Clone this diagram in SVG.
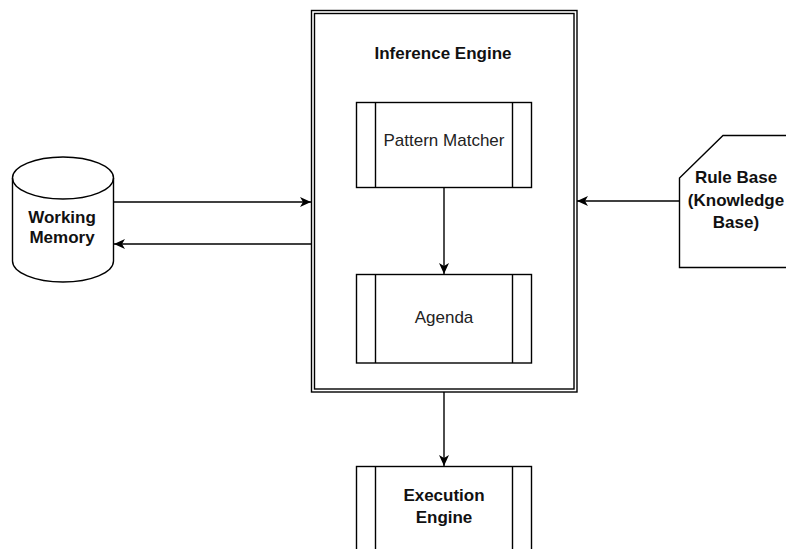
<svg xmlns="http://www.w3.org/2000/svg" width="786" height="549" viewBox="0 0 786 549">
<style>
.s{fill:#fff;stroke:#000;stroke-width:1.4}
.l{fill:none;stroke:#000;stroke-width:1.4}
.t{font-family:"Liberation Sans",Arial,sans-serif;font-size:17px;text-anchor:middle;fill:#222}
.b{font-weight:bold;fill:#111}
</style>
<defs>
<marker id="arr" markerUnits="userSpaceOnUse" markerWidth="12" markerHeight="12" viewBox="0 0 12 12" refX="11" refY="6" orient="auto">
<path d="M0,1 L11,6 L0,11 L3,6 z" fill="#000"/>
</marker>
</defs>
<rect width="786" height="549" fill="#fff"/>
<g id="inference-engine">
<rect class="s" x="311.5" y="10.5" width="265.5" height="381.5"/>
<rect class="l" x="314.5" y="13.5" width="259.5" height="375.5"/>
<text class="t b" x="443" y="59">Inference Engine</text>
</g>
<g id="pattern-matcher">
<rect class="s" x="356.5" y="102.5" width="175" height="85"/>
<path class="l" d="M375.5,102.5 V187.5 M512.5,102.5 V187.5"/>
<text class="t" x="444" y="146">Pattern Matcher</text>
</g>
<g id="agenda">
<rect class="s" x="356.5" y="274.5" width="175" height="88.5"/>
<path class="l" d="M375.5,274.5 V363 M512.5,274.5 V363"/>
<text class="t" x="444" y="323">Agenda</text>
</g>
<g id="execution-engine">
<rect class="s" x="356.5" y="466.5" width="175" height="100"/>
<path class="l" d="M375.5,466.5 V560 M512.5,466.5 V560"/>
<text class="t b" x="444" y="501">Execution</text>
<text class="t b" x="444" y="523">Engine</text>
</g>
<g id="working-memory">
<path class="s" d="M12.5,178 A50.5,21 0 0 1 113.5,178 V261 A50.5,21 0 0 1 12.5,261 Z"/>
<path class="l" d="M12.5,178 A50.5,21 0 0 0 113.5,178"/>
<text class="t b" x="62" y="223">Working</text>
<text class="t b" x="62" y="243">Memory</text>
</g>
<g id="rule-base">
<path class="s" d="M723,135.5 H800 V267.5 H679.5 V178 Z"/>
<text class="t b" x="736" y="183">Rule Base</text>
<text class="t b" x="736" y="206">(Knowledge</text>
<text class="t b" x="736" y="228">Base)</text>
</g>
<g id="connectors">
<path class="l" d="M114,202 H311" marker-end="url(#arr)"/>
<path class="l" d="M311,244 H114" marker-end="url(#arr)"/>
<path class="l" d="M679,201 H577" marker-end="url(#arr)"/>
<path class="l" d="M444,188 V274" marker-end="url(#arr)"/>
<path class="l" d="M444,392 V466" marker-end="url(#arr)"/>
</g>
</svg>
